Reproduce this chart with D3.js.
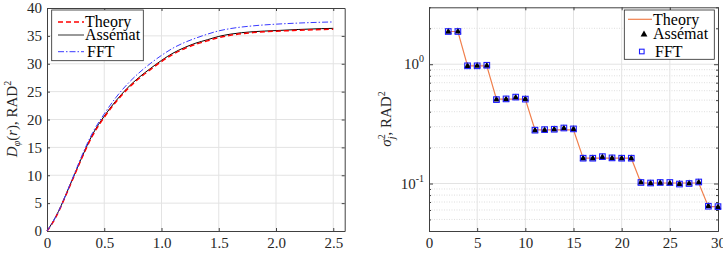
<!DOCTYPE html>
<html>
<head>
<meta charset="utf-8">
<script src="https://cdn.jsdelivr.net/npm/d3@7"></script>
<style>
body { margin: 0; background: #fff; }
.domain { stroke: #404040; }
.tick line { stroke: #404040; }
</style>
</head>
<body>
<script>
var SERIF = '"Liberation Serif", "Times New Roman", Times, serif';

// left panel: structure function
var r = [0, 0.05, 0.1, 0.15, 0.2, 0.25, 0.3, 0.4, 0.5, 0.6, 0.7, 0.8, 0.9, 1.0, 1.1, 1.2, 1.3, 1.4, 1.5, 1.6, 1.8, 2.0, 2.2, 2.4, 2.5];
var dTheory  = [0, 1.5, 3.4, 5.7, 8.1, 10.5, 12.9, 17.2, 20.4, 23.1, 25.4, 27.3, 28.9, 30.4, 31.7, 32.7, 33.5, 34.1, 34.7, 35.1, 35.6, 35.85, 36.0, 36.15, 36.2];
var dAssemat = [0, 1.6, 3.5, 5.8, 8.2, 10.6, 13.0, 17.4, 20.6, 23.3, 25.6, 27.5, 29.1, 30.6, 31.9, 32.9, 33.7, 34.3, 34.9, 35.3, 35.75, 35.95, 36.15, 36.3, 36.35];
var dFFT     = [0, 1.6, 3.5, 5.8, 8.3, 10.8, 13.3, 17.7, 21.0, 23.9, 26.3, 28.3, 30.0, 31.5, 32.8, 33.8, 34.6, 35.3, 35.9, 36.3, 36.8, 37.1, 37.3, 37.45, 37.5];

// right panel: zernike variances
var modes = [2, 3, 4, 5, 6, 7, 8, 9, 10, 11, 12, 13, 14, 15, 16, 17, 18, 19, 20, 21, 22, 23, 24, 25, 26, 27, 28, 29, 30];
var varTheory  = [1.88, 1.88, 0.97, 0.97, 0.97, 0.51, 0.51, 0.51, 0.51, 0.282, 0.282, 0.282, 0.282, 0.282, 0.163, 0.163, 0.163, 0.163, 0.163, 0.163, 0.101, 0.101, 0.101, 0.101, 0.101, 0.101, 0.101, 0.064, 0.064];
var varAssemat = [1.87, 1.88, 0.965, 0.97, 0.97, 0.505, 0.508, 0.525, 0.51, 0.278, 0.28, 0.284, 0.29, 0.285, 0.162, 0.162, 0.166, 0.163, 0.162, 0.162, 0.102, 0.100, 0.101, 0.100, 0.099, 0.100, 0.102, 0.0645, 0.0635];
var varFFT     = [1.88, 1.88, 0.97, 0.97, 0.98, 0.505, 0.512, 0.53, 0.51, 0.28, 0.283, 0.285, 0.292, 0.287, 0.163, 0.163, 0.168, 0.164, 0.163, 0.163, 0.102, 0.101, 0.102, 0.102, 0.099, 0.100, 0.103, 0.0645, 0.064];

var leftTicksX = [0, 0.5, 1.0, 1.5, 2.0, 2.5];
var leftTicksY = [0, 5, 10, 15, 20, 25, 30, 35, 40];
var rightTicksX = [0, 5, 10, 15, 20, 25, 30];
var rightTicksY = [0.1, 1];
var rightMinorY = [0.04, 0.05, 0.06, 0.07, 0.08, 0.09, 0.2, 0.3, 0.4, 0.5, 0.6, 0.7, 0.8, 0.9, 2, 3];

var svg = d3.select('body').append('svg')
	.attr('width', 723)
	.attr('height', 262)
	.attr('font-family', SERIF);

var gridCol = '#e3e3e3';

// axis helper: d3 puts sans-serif on the group, put the serif back
function fixFont(sel) {
	sel.attr('font-family', SERIF).attr('font-size', 15);
	sel.selectAll('text').attr('fill', '#262626');
}

// ---------- left ----------
var x1 = d3.scaleLinear().domain([0, 2.6]).range([47, 344.7]);
var y1 = d3.scaleLinear().domain([0, 40]).range([231, 8]);

var g1 = svg.append('g');
g1.selectAll('.gx').data(leftTicksX.slice(1)).enter().append('line')
	.attr('x1', x1).attr('x2', x1).attr('y1', y1(0)).attr('y2', y1(40))
	.attr('stroke', gridCol).attr('stroke-width', 1);
g1.selectAll('.gy').data(leftTicksY.slice(1, -1)).enter().append('line')
	.attr('x1', x1(0)).attr('x2', x1(2.6)).attr('y1', y1).attr('y2', y1)
	.attr('stroke', gridCol).attr('stroke-width', 1);

g1.append('g').attr('transform', 'translate(0,' + y1(0) + ')')
	.call(d3.axisBottom(x1).tickValues(leftTicksX).tickSizeInner(-3).tickSizeOuter(0).tickPadding(6)
		.tickFormat(function(d) { return d === 0 ? '0' : d.toFixed(1); }))
	.call(fixFont);
g1.append('g').attr('transform', 'translate(0,' + y1(40) + ')')
	.call(d3.axisTop(x1).tickValues(leftTicksX).tickSizeInner(-3).tickSizeOuter(0).tickFormat(''));
g1.append('g').attr('transform', 'translate(' + x1(0) + ',0)')
	.call(d3.axisLeft(y1).tickValues(leftTicksY).tickSizeInner(-3).tickSizeOuter(0).tickPadding(5))
	.call(fixFont);
g1.append('g').attr('transform', 'translate(' + x1(2.6) + ',0)')
	.call(d3.axisRight(y1).tickValues(leftTicksY).tickSizeInner(-3).tickSizeOuter(0).tickFormat(''));

var line1 = function(vals) {
	return d3.line()
		.x(function(d, i) { return x1(r[i]); })
		.y(function(d) { return y1(d); })
		.curve(d3.curveMonotoneX)(vals);
};
g1.append('path').attr('d', line1(dAssemat)).attr('fill', 'none')
	.attr('stroke', '#000').attr('stroke-width', 1);
g1.append('path').attr('d', line1(dTheory)).attr('fill', 'none')
	.attr('stroke', '#ff0000').attr('stroke-width', 1.5).attr('stroke-dasharray', '5,3');
g1.append('path').attr('d', line1(dFFT)).attr('fill', 'none')
	.attr('stroke', '#3a3aff').attr('stroke-width', 1).attr('stroke-dasharray', '6,2,1.5,2');

// legend left
var lg1 = g1.append('g');
lg1.append('rect').attr('x', 51.7).attr('y', 10).attr('width', 91.6).attr('height', 50.7)
	.attr('fill', '#fff').attr('stroke', '#262626').attr('stroke-width', 0.8);
var leg1 = [
	{ name: 'Theory', col: '#ff0000', w: 1.5, dash: '5,3', ly: 22, ty: 26.5, tx: 85 },
	{ name: 'Assémat', col: '#555', w: 1.2, dash: null, ly: 35, ty: 39.5, tx: 85 },
	{ name: 'FFT', col: '#3a3aff', w: 1, dash: '6,2,1.5,2', ly: 51.7, ty: 56.5, tx: 87 }
];
leg1.forEach(function(d) {
	lg1.append('line').attr('x1', 58).attr('x2', 84).attr('y1', d.ly).attr('y2', d.ly)
		.attr('stroke', d.col).attr('stroke-width', d.w).attr('stroke-dasharray', d.dash);
	lg1.append('text').attr('x', d.tx).attr('y', d.ty).attr('font-size', 16).attr('fill', '#000').text(d.name);
});

// y label left
var yl1 = svg.append('text').attr('transform', 'translate(17,119) rotate(-90)')
	.attr('text-anchor', 'middle').attr('font-size', 15).attr('fill', '#262626');
yl1.append('tspan').attr('font-style', 'italic').text('D');
yl1.append('tspan').attr('font-style', 'italic').attr('font-size', 10).attr('dy', 3).text('φ');
yl1.append('tspan').attr('dy', -3).text('(');
yl1.append('tspan').attr('font-style', 'italic').text('r');
yl1.append('tspan').text('), RAD');
yl1.append('tspan').attr('font-size', 10).attr('dy', -6).text('2');

// ---------- right ----------
var x2 = d3.scaleLinear().domain([0, 30]).range([429, 718]);
var y2 = d3.scaleLog().domain([0.04, 3]).range([231, 7.3]);

var g2 = svg.append('g');
g2.selectAll('.gm').data(rightMinorY.filter(function(d) { return d > 0.04 && d < 3; })).enter().append('line')
	.attr('x1', x2(0)).attr('x2', x2(30)).attr('y1', y2).attr('y2', y2)
	.attr('stroke', '#d6d6d6').attr('stroke-width', 0.8).attr('stroke-dasharray', '1,1.5');
g2.selectAll('.gx').data(rightTicksX.slice(1, -1)).enter().append('line')
	.attr('x1', x2).attr('x2', x2).attr('y1', y2(0.04)).attr('y2', y2(3))
	.attr('stroke', gridCol).attr('stroke-width', 1);
g2.selectAll('.gy').data(rightTicksY).enter().append('line')
	.attr('x1', x2(0)).attr('x2', x2(30)).attr('y1', y2).attr('y2', y2)
	.attr('stroke', gridCol).attr('stroke-width', 1);

g2.append('g').attr('transform', 'translate(0,' + y2(0.04) + ')')
	.call(d3.axisBottom(x2).tickValues(rightTicksX).tickSizeInner(-3).tickSizeOuter(0).tickPadding(6))
	.call(fixFont);
g2.append('g').attr('transform', 'translate(0,' + y2(3) + ')')
	.call(d3.axisTop(x2).tickValues(rightTicksX).tickSizeInner(-3).tickSizeOuter(0).tickFormat(''));
g2.append('g').attr('transform', 'translate(' + x2(0) + ',0)')
	.call(d3.axisLeft(y2).tickValues(rightTicksY).tickSizeInner(-4).tickSizeOuter(0).tickFormat(''));
g2.append('g').attr('transform', 'translate(' + x2(0) + ',0)')
	.call(d3.axisLeft(y2).tickValues(rightMinorY).tickSizeInner(-2).tickSizeOuter(0).tickFormat(''));
g2.append('g').attr('transform', 'translate(' + x2(30) + ',0)')
	.call(d3.axisRight(y2).tickValues(rightTicksY).tickSizeInner(-4).tickSizeOuter(0).tickFormat(''));
g2.append('g').attr('transform', 'translate(' + x2(30) + ',0)')
	.call(d3.axisRight(y2).tickValues(rightMinorY).tickSizeInner(-2).tickSizeOuter(0).tickFormat(''));

rightTicksY.forEach(function(v) {
	var t = g2.append('text').attr('x', x2(0) - 5).attr('y', y2(v) + 5)
		.attr('text-anchor', 'end').attr('font-size', 15).attr('fill', '#262626');
	t.append('tspan').text('10');
	t.append('tspan').attr('font-size', 10).attr('dy', -7).text(Math.round(Math.log10(v)) === 0 ? '0' : '-1');
});

// theory line and markers
g2.append('path')
	.attr('d', d3.line().x(function(d, i) { return x2(modes[i]); }).y(function(d) { return y2(d); })(varTheory))
	.attr('fill', 'none').attr('stroke', '#f07f4c').attr('stroke-width', 1.2);
g2.selectAll('.tri').data(varAssemat).enter().append('path')
	.attr('d', d3.symbol(d3.symbolTriangle, 20))
	.attr('transform', function(d, i) { return 'translate(' + x2(modes[i]) + ',' + y2(d) + ')'; })
	.attr('fill', '#000');
g2.selectAll('.sq').data(varFFT).enter().append('rect')
	.attr('x', function(d, i) { return x2(modes[i]) - 2.8; })
	.attr('y', function(d) { return y2(d) - 2.8; })
	.attr('width', 5.6).attr('height', 5.6)
	.attr('fill', 'none').attr('stroke', '#2020ff').attr('stroke-width', 1.1);

// legend right
var lg2 = g2.append('g');
lg2.append('rect').attr('x', 624.3).attr('y', 10).attr('width', 90).attr('height', 49.3)
	.attr('fill', '#fff').attr('stroke', '#262626').attr('stroke-width', 0.8);
lg2.append('line').attr('x1', 628).attr('x2', 652).attr('y1', 19.3).attr('y2', 19.3)
	.attr('stroke', '#f07f4c').attr('stroke-width', 1.2);
lg2.append('path').attr('d', d3.symbol(d3.symbolTriangle, 20))
	.attr('transform', 'translate(644,34.5)').attr('fill', '#000');
lg2.append('rect').attr('x', 639.5).attr('y', 49.2).attr('width', 4.6).attr('height', 4.6)
	.attr('fill', 'none').attr('stroke', '#2020ff').attr('stroke-width', 1.1);
[['Theory', 653, 25], ['Assémat', 653, 39.3], ['FFT', 655, 57]].forEach(function(d) {
	lg2.append('text').attr('x', d[1]).attr('y', d[2]).attr('font-size', 16).attr('fill', '#000').text(d[0]);
});

// y label right
var yl2 = svg.append('text').attr('transform', 'translate(391,119) rotate(-90)')
	.attr('text-anchor', 'middle').attr('font-size', 15).attr('fill', '#262626');
yl2.append('tspan').attr('font-style', 'italic').text('σ');
yl2.append('tspan').attr('font-size', 10).attr('dy', -6).text('2');
yl2.append('tspan').attr('font-style', 'italic').attr('font-size', 10).attr('dx', -5).attr('dy', 10).text('j');
yl2.append('tspan').attr('dx', 1).attr('dy', -4).text(', RAD');
yl2.append('tspan').attr('font-size', 10).attr('dy', -6).text('2');
</script>
</body>
</html>
